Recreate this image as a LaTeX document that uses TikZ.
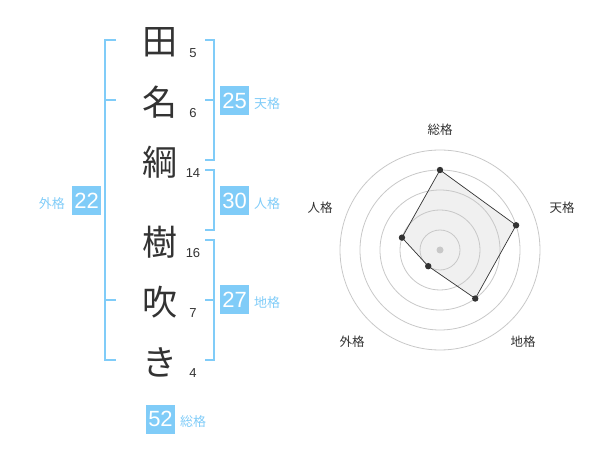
\documentclass[tikz,border=0pt]{standalone}
\usepackage{fontspec}
\setmainfont{Liberation Sans}
\newfontfamily\jpfont{Noto Sans CJK JP}
\definecolor{skyline}{HTML}{80CCF8}
\definecolor{inkgray}{HTML}{333333}
\definecolor{ringgray}{HTML}{C8C8C8}
\tikzset{kanji/.style={font=\jpfont\fontsize{35}{35}\selectfont, text=inkgray, inner sep=0pt},
 strokes/.style={font=\fontsize{13}{13}\selectfont, text=inkgray, inner sep=0pt},
 kakubox/.style={fill=skyline, text=white, minimum size=29pt, inner sep=0pt,
   font=\fontsize{22}{22}\selectfont},
 kakuname/.style={text=skyline, font=\jpfont\fontsize{13}{13}\selectfont, inner sep=0pt},
 bracket/.style={draw=skyline, line width=2pt},
 ring/.style={draw=ringgray, line width=0.8pt},
 axisname/.style={font=\jpfont\fontsize{12.5}{12.5}\selectfont, text=inkgray, inner sep=0pt},
 }

\begin{document}
\begin{tikzpicture}[x=1pt, y=-1pt]
        \useasboundingbox (0, 0) rectangle (600, 470);

        % name and stroke counts
        \foreach \c/\n/\yy[count=\i] in {田/5/42, 名/6/102, 綱/14/162, 樹/16/242, 吹/7/302, き/4/362} {
            \node[kanji] (char\i) at (160, \yy) {\c};
            \node[strokes] (num\i) at (193, \yy+11) {\n};
        }

        % brackets
        \draw[bracket] (116, 40) -- (105, 40) -- (105, 360) -- (116, 360);
        \draw[bracket] (105, 100) -- (116, 100);
        \draw[bracket] (105, 300) -- (116, 300);
        \draw[bracket] (205, 40) -- (214, 40) -- (214, 160) -- (205, 160);
        \draw[bracket] (205, 100) -- (214, 100);
        \draw[bracket] (205, 170) -- (214, 170) -- (214, 230) -- (205, 230);
        \draw[bracket] (205, 240) -- (214, 240) -- (214, 360) -- (205, 360);
        \draw[bracket] (205, 300) -- (214, 300);

        % kakusu boxes
        \node[kakubox] (ten) at (234.7, 100.5) {25};
        \node[kakuname, anchor=west] (tenname) at (254, 103.5) {天格};
        \node[kakubox] (jin) at (234.7, 200.5) {30};
        \node[kakuname, anchor=west] (jinname) at (254, 203.5) {人格};
        \node[kakubox] (chi) at (234.7, 300) {27};
        \node[kakuname, anchor=west] (chiname) at (254, 303) {地格};
        \node[kakubox] (gai) at (86.7, 200.5) {22};
        \node[kakuname, anchor=east] (gainame) at (65, 203.5) {外格};
        \node[kakubox] (sou) at (160.5, 419) {52};
        \node[kakuname, anchor=west] (souname) at (180, 422) {総格};

        % radar chart
        \begin{scope}[shift={(440, 250)}, y=1pt]
            \fill[black!6] (90:80) -- (18:80) -- (-54:60) -- (-126:20) -- (162:40) -- cycle;
            \foreach \r in {20, 40, 60, 80, 100} {
                \draw[ring] (0, 0) circle (\r);
            }
            \fill[ringgray] (0, 0) circle (3.5);
            \draw[draw=inkgray, line width=0.7pt]
                (90:80) -- (18:80) -- (-54:60) -- (-126:20) -- (162:40) -- cycle;
            \foreach \a/\v in {90/80, 18/80, -54/60, -126/20, 162/40} {
                \fill[inkgray] (\a:\v) circle (3.2);
            }
            \node[axisname] (ax1) at (0, 120) {総格};
            \node[axisname] (ax2) at (122, 42) {天格};
            \node[axisname] (ax3) at (83, -92) {地格};
            \node[axisname] (ax4) at (-88, -92) {外格};
            \node[axisname] (ax5) at (-120, 42) {人格};
        \end{scope}
    \end{tikzpicture}
\end{document}
